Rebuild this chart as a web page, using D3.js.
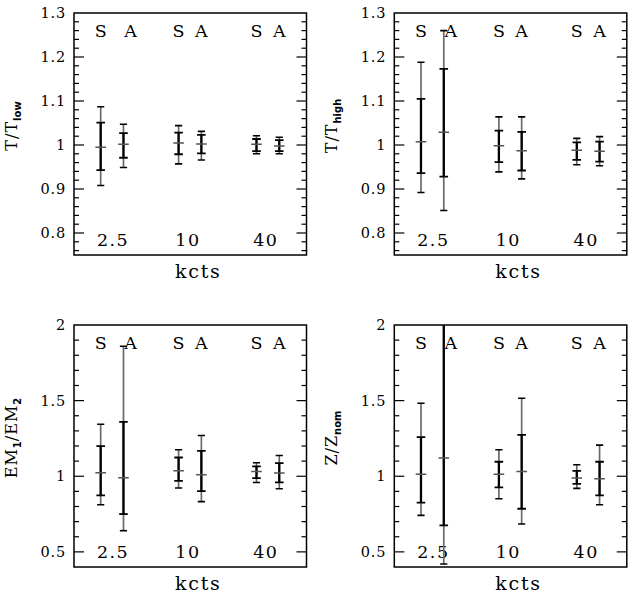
<!DOCTYPE html>
<html><head><meta charset="utf-8">
<script src="https://cdn.jsdelivr.net/npm/d3@7"></script>
<style>
body{margin:0;background:#fff;}
svg{display:block;}
text{font-family:"DejaVu Serif";fill:#000;}
</style></head>
<body><svg id="chart" width="628" height="599"></svg>
<script>
// ---------- data ----------
const kcts = [2.5, 10, 40];
const groupLabels = ["2.5", "10", "40"];
const typeLabels = ["S", "A"];

// Panel 1: T/T_low
const tlowS_outerLo = [0.908, 0.957, 0.980];
const tlowS_innerLo = [0.943, 0.979, 0.986];
const tlowS_center  = [0.995, 1.0045, 1.0016];
const tlowS_innerHi = [1.051, 1.028, 1.0136];
const tlowS_outerHi = [1.087, 1.044, 1.021];
const tlowA_outerLo = [0.949, 0.966, 0.980];
const tlowA_innerLo = [0.971, 0.981, 0.986];
const tlowA_center  = [1.0016, 1.002, 0.998];
const tlowA_innerHi = [1.027, 1.023, 1.011];
const tlowA_outerHi = [1.047, 1.031, 1.0175];

// Panel 2: T/T_high
const thighS_outerLo = [0.892, 0.939, 0.955];
const thighS_innerLo = [0.936, 0.961, 0.966];
const thighS_center  = [1.0076, 0.9985, 0.988];
const thighS_innerHi = [1.105, 1.0325, 1.006];
const thighS_outerHi = [1.188, 1.064, 1.015];
const thighA_outerLo = [0.851, 0.923, 0.953];
const thighA_innerLo = [0.928, 0.942, 0.962];
const thighA_center  = [1.029, 0.987, 0.986];
const thighA_innerHi = [1.173, 1.030, 1.0076];
const thighA_outerHi = [1.26, 1.064, 1.019];

// Panel 3: EM1/EM2
const emS_outerLo = [0.812, 0.922, 0.959];
const emS_innerLo = [0.873, 0.970, 0.988];
const emS_center  = [1.023, 1.036, 1.032];
const emS_innerHi = [1.199, 1.124, 1.065];
const emS_outerHi = [1.344, 1.175, 1.089];
const emA_outerLo = [0.64, 0.832, 0.917];
const emA_innerLo = [0.75, 0.902, 0.959];
const emA_center  = [0.99, 1.010, 1.021];
const emA_innerHi = [1.36, 1.168, 1.087];
const emA_outerHi = [1.86, 1.269, 1.137];

// Panel 4: Z/Z_nom
const zS_outerLo = [0.741, 0.851, 0.920];
const zS_innerLo = [0.825, 0.926, 0.949];
const zS_center  = [1.014, 1.014, 0.988];
const zS_innerHi = [1.259, 1.096, 1.036];
const zS_outerHi = [1.483, 1.175, 1.076];
const zA_outerLo = [0.42, 0.684, 0.812];
const zA_innerLo = [0.675, 0.785, 0.873];
const zA_center  = [1.12, 1.032, 0.984];
const zA_innerHi = [2.3, 1.274, 1.096];
const zA_outerHi = [2.6, 1.516, 1.206];

const topYTicks = [0.8, 0.9, 1, 1.1, 1.2, 1.3];
const topYTickLabels = ["0.8", "0.9", "1", "1.1", "1.2", "1.3"];
const botYTicks = [0.5, 1, 1.5, 2];
const botYTickLabels = ["0.5", "1", "1.5", "2"];

// ---------- layout ----------
const svg = d3.select("#chart");
const W = 232.5, H = 242;
const aFactor = 1.5;        // A bars placed at kcts*aFactor on log axis
const aLabelShift = [7, 0, 0];

function mk(outerLo, innerLo, center, innerHi, outerHi) {
  return kcts.map((k, i) => ({oLo: outerLo[i], iLo: innerLo[i], c: center[i], iHi: innerHi[i], oHi: outerHi[i]}));
}

const panels = [
  {left: 74, top: 13, dom: [0.75, 1.3], major: topYTicks, majorLbl: topYTickLabels, minorStep: 0.02,
   title: ["T/T", "low", ""], S: mk(tlowS_outerLo, tlowS_innerLo, tlowS_center, tlowS_innerHi, tlowS_outerHi),
   A: mk(tlowA_outerLo, tlowA_innerLo, tlowA_center, tlowA_innerHi, tlowA_outerHi)},
  {left: 394.3, top: 13, dom: [0.75, 1.3], major: topYTicks, majorLbl: topYTickLabels, minorStep: 0.02,
   title: ["T/T", "high", ""], S: mk(thighS_outerLo, thighS_innerLo, thighS_center, thighS_innerHi, thighS_outerHi),
   A: mk(thighA_outerLo, thighA_innerLo, thighA_center, thighA_innerHi, thighA_outerHi)},
  {left: 74, top: 325, dom: [0.4, 2], major: botYTicks, majorLbl: botYTickLabels, minorStep: 0.1,
   title: "EM", S: mk(emS_outerLo, emS_innerLo, emS_center, emS_innerHi, emS_outerHi),
   A: mk(emA_outerLo, emA_innerLo, emA_center, emA_innerHi, emA_outerHi)},
  {left: 394.3, top: 325, dom: [0.4, 2], major: botYTicks, majorLbl: botYTickLabels, minorStep: 0.1,
   title: ["Z/Z", "nom", ""], S: mk(zS_outerLo, zS_innerLo, zS_center, zS_innerHi, zS_outerHi),
   A: mk(zA_outerLo, zA_innerLo, zA_center, zA_innerHi, zA_outerHi)}
];

panels.forEach((p, pi) => {
  const g = svg.append("g").attr("transform", `translate(${p.left},${p.top})`);
  const x = d3.scaleLog().domain([1.555, 97.4]).range([0, W]);
  const y = d3.scaleLinear().domain(p.dom).range([H, 0]);

  const clipId = "clip" + pi;
  g.append("clipPath").attr("id", clipId).append("rect").attr("width", W).attr("height", H);

  // ticks (left and right), major + minor
  const minor = d3.range(Math.round(p.dom[0] / p.minorStep), Math.round(p.dom[1] / p.minorStep) + 1)
    .map(v => v * p.minorStep).filter(v => v > p.dom[0] + 1e-9 && v < p.dom[1] - 1e-9);
  const isMajor = v => p.major.some(m => Math.abs(m - v) < 1e-6);
  const tk = g.append("g").attr("stroke", "#000").attr("stroke-width", 1.2);
  minor.forEach(v => {
    const L = isMajor(v) ? 10 : 5;
    tk.append("line").attr("x1", 0).attr("x2", L).attr("y1", y(v)).attr("y2", y(v));
    tk.append("line").attr("x1", W).attr("x2", W - L).attr("y1", y(v)).attr("y2", y(v));
  });

  // y tick labels
  p.major.forEach((v, i) => {
    g.append("text").attr("x", -8).attr("y", y(v)).attr("dy", "0.36em")
      .attr("text-anchor", "end").attr("font-size", 14.5).attr("letter-spacing", 0.8)
      .text(p.majorLbl[i]);
  });

  // frame
  g.append("rect").attr("width", W).attr("height", H).attr("fill", "none")
    .attr("stroke", "#000").attr("stroke-width", 1.5);

  // S / A labels and group labels
  kcts.forEach((k, i) => {
    g.append("text").attr("x", x(k)).attr("y", y.range()[1] + 24).attr("text-anchor", "middle")
      .attr("font-size", 17.5).text(typeLabels[0]);
    g.append("text").attr("x", x(k * aFactor) + aLabelShift[i]).attr("y", y.range()[1] + 24).attr("text-anchor", "middle")
      .attr("font-size", 17.5).text(typeLabels[1]);
    g.append("text").attr("x", x(k * Math.sqrt(aFactor)) + (i === 0 ? 1 : -2)).attr("y", H - 9).attr("text-anchor", "middle")
      .attr("font-size", 17.5).attr("letter-spacing", 1.5).text(groupLabels[i]);
  });

  // error bars
  const bars = g.append("g").attr("clip-path", `url(#${clipId})`);
  [["S", 1], ["A", aFactor]].forEach(([key, f]) => {
    p[key].forEach((d, i) => {
      const cx = x(kcts[i] * f);
      bars.append("line").attr("x1", cx).attr("x2", cx).attr("y1", y(d.oLo)).attr("y2", y(d.oHi))
        .attr("stroke", "#6a6a6a").attr("stroke-width", 1.7);
      bars.append("line").attr("x1", cx).attr("x2", cx).attr("y1", y(d.iLo)).attr("y2", y(d.iHi))
        .attr("stroke", "#000").attr("stroke-width", 2.3);
      [d.oLo, d.oHi].forEach(v => bars.append("line").attr("x1", cx - 3.6).attr("x2", cx + 3.6)
        .attr("y1", y(v)).attr("y2", y(v)).attr("stroke", "#000").attr("stroke-width", 1.6));
      [d.iLo, d.iHi].forEach(v => bars.append("line").attr("x1", cx - 4.3).attr("x2", cx + 4.3)
        .attr("y1", y(v)).attr("y2", y(v)).attr("stroke", "#000").attr("stroke-width", 1.8));
      bars.append("line").attr("x1", cx - 5.3).attr("x2", cx + 5.3).attr("y1", y(d.c)).attr("y2", y(d.c))
        .attr("stroke", "#555").attr("stroke-width", 1.5);
    });
  });

  // x axis title
  g.append("text").attr("x", W / 2 + 8).attr("y", H + 23).attr("text-anchor", "middle")
    .attr("font-size", 19).attr("letter-spacing", 1.8).text("kcts");

  // y axis title
  const t = g.append("text").attr("transform", `translate(${-57},${H / 2 - 8}) rotate(-90)`)
    .attr("text-anchor", "middle").attr("font-size", 16).attr("letter-spacing", 1);
  if (p.title === "EM") {
    t.append("tspan").text("EM");
    t.append("tspan").attr("font-size", 10).attr("font-family", "DejaVu Sans").attr("font-weight", "bold").attr("letter-spacing", 0).attr("dy", 4).text("1");
    t.append("tspan").attr("dy", -4).text("/EM");
    t.append("tspan").attr("font-size", 10).attr("font-family", "DejaVu Sans").attr("font-weight", "bold").attr("letter-spacing", 0).attr("dy", 4).text("2");
  } else {
    t.append("tspan").text(p.title[0]);
    t.append("tspan").attr("font-size", 10).attr("font-family", "DejaVu Sans").attr("font-weight", "bold").attr("dy", 4).attr("letter-spacing", 0).text(p.title[1]);
  }
});
</script></body></html>
